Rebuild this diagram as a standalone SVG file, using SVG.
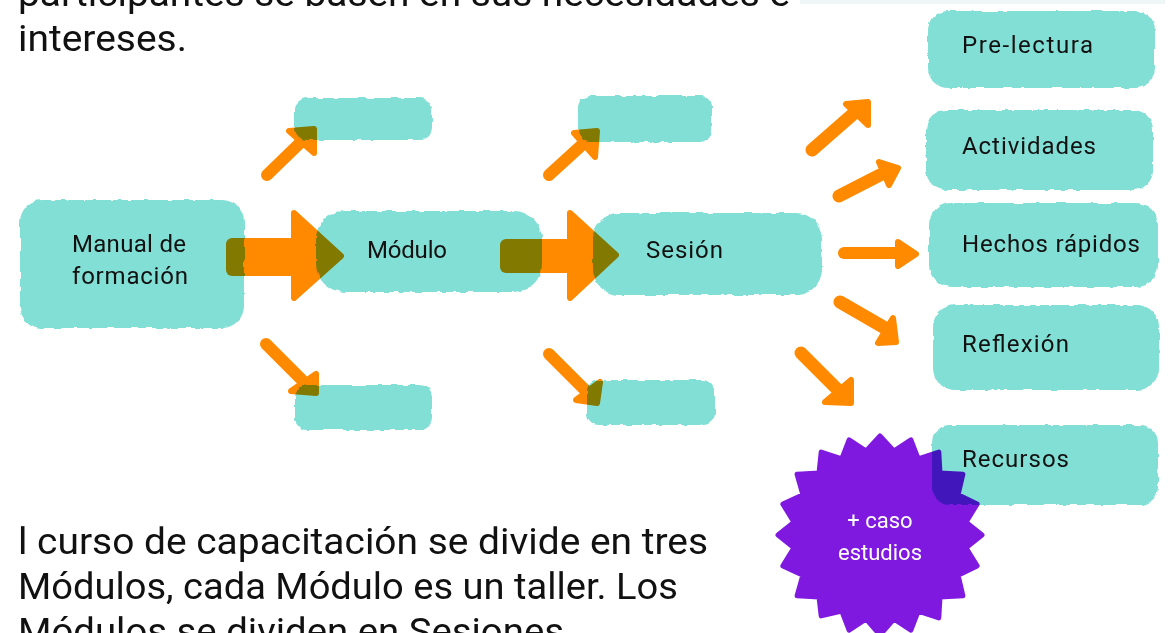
<svg xmlns="http://www.w3.org/2000/svg" width="1169" height="633" viewBox="0 0 1169 633">
<style>
.bg{fill:#ffffff}
.box{fill:#82dfd5;filter:url(#rough)}
.lbl{font-family:Roboto,"Liberation Sans",sans-serif;font-size:24px;fill:#111111}
.body{font-family:Roboto,"Liberation Sans",sans-serif;font-size:37px;fill:#111111}
.star{fill:#8019e0;stroke:#8019e0;stroke-width:5;stroke-linejoin:round;mix-blend-mode:multiply}
.startxt{font-family:Roboto,"Liberation Sans",sans-serif;font-size:22px;fill:#ffffff;text-anchor:middle}
.arrow{mix-blend-mode:multiply}
.shaft{fill:none;stroke:#ff8a00;stroke-linecap:round}
.head{fill:#ff8a00;stroke:#ff8a00;stroke-width:6;stroke-linejoin:round}
</style>
<defs>
<filter id="rough" x="-5%" y="-10%" width="110%" height="120%">
<feTurbulence type="fractalNoise" baseFrequency="0.12" numOctaves="2" seed="4" result="n"/>
<feDisplacementMap in="SourceGraphic" in2="n" scale="4" xChannelSelector="R" yChannelSelector="G"/>
</filter>
</defs>
<rect class="bg" x="0" y="0" width="1169" height="633"/>

<g id="text-top">
<rect x="800" y="0" width="365" height="4" fill="#e3f2ef" opacity="0.6"/>
<text class="body" x="18" y="6" textLength="772" lengthAdjust="spacingAndGlyphs">participantes se basen en sus necesidades e</text>
<text class="body" x="18" y="51" textLength="169" lengthAdjust="spacingAndGlyphs">intereses.</text>
</g>

<g id="node-manual">
<rect class="box" x="20" y="200" width="224" height="128" rx="22"/>
<text class="lbl" x="72" y="252" textLength="114">Manual de</text>
<text class="lbl" x="72" y="284" textLength="116">formación</text>
</g>
<g id="node-modulo">
<rect class="box" x="316" y="211" width="226" height="81" rx="28"/>
<text class="lbl" x="367" y="258" textLength="80">Módulo</text>
</g>
<g id="node-sesion">
<rect class="box" x="593" y="213" width="229" height="82" rx="26"/>
<text class="lbl" x="646" y="258" textLength="77">Sesión</text>
</g>
<g id="node-mod-top">
<rect class="box" x="295" y="98" width="137" height="42" rx="12"/>
</g>
<g id="node-ses-top">
<rect class="box" x="578" y="96" width="134" height="46" rx="12"/>
</g>
<g id="node-mod-bottom">
<rect class="box" x="295" y="385" width="137" height="45" rx="12"/>
</g>
<g id="node-ses-bottom">
<rect class="box" x="587" y="380" width="128" height="45" rx="12"/>
</g>
<g id="node-prelectura">
<rect class="box" x="928" y="11" width="227" height="77" rx="20"/>
<text class="lbl" x="962" y="53" textLength="131">Pre-lectura</text>
</g>
<g id="node-actividades">
<rect class="box" x="926" y="110" width="227" height="80" rx="20"/>
<text class="lbl" x="962" y="154" textLength="134">Actividades</text>
</g>
<g id="node-hechos">
<rect class="box" x="929" y="203" width="229" height="84" rx="22"/>
<text class="lbl" x="962" y="252" textLength="178">Hechos rápidos</text>
</g>
<g id="node-reflexion">
<rect class="box" x="933" y="305" width="226" height="85" rx="22"/>
<text class="lbl" x="962" y="352" textLength="107">Reflexión</text>
</g>
<g id="node-recursos">
<rect class="box" x="932" y="425" width="226" height="80" rx="18"/>
<text class="lbl" x="962" y="467" textLength="107">Recursos</text>
</g>
<g id="node-caso">
<polygon class="star" points="982,535 966,547.8 977.1,565.9 958.1,575.2 962.9,595.8 940,597 938.8,617.9 918.2,611.1 910.9,630.1 893.8,619 880,635 866.2,619 849.1,630.1 841.8,611.1 821.2,615.9 819,597 797.1,595.8 802.9,575.2 782.9,565.9 794,547.8 778,535 794,522.2 782.9,504.1 802.9,494.8 797.1,474.2 819,473 821.2,452.1 841.8,458.9 849.1,439.9 866.2,451 880,436 893.8,451 910.9,439.9 918.2,458.9 938.8,452.1 940,473 962.9,474.2 958.1,494.8 977.1,504.1 966,522.2"/>
<text class="startxt" x="880" y="528">+ caso</text>
<text class="startxt" x="880" y="560">estudios</text>
</g>

<g id="connectors">
<g class="arrow">
<rect x="226" y="238" width="70" height="38" rx="6" fill="#ff8a00"/>
<polygon class="head" points="294,213 341,256 294,298"/>
</g>
<g class="arrow">
<rect x="500" y="239" width="72" height="34" rx="6" fill="#ff8a00"/>
<polygon class="head" points="570,213 616,255 570,298"/>
</g>
<g class="arrow">
<line class="shaft" x1="267" y1="175" x2="300" y2="143" stroke-width="12"/>
<polygon class="head" points="289,131 314,129 314,153"/>
</g>
<g class="arrow">
<line class="shaft" x1="549" y1="175" x2="583" y2="144" stroke-width="12"/>
<polygon class="head" points="574,133 597,131 595,157"/>
</g>
<g class="arrow">
<line class="shaft" x1="266" y1="344" x2="302" y2="380" stroke-width="12"/>
<polygon class="head" points="291,391 316,374 316,393"/>
</g>
<g class="arrow">
<line class="shaft" x1="549" y1="354" x2="585" y2="390" stroke-width="12"/>
<polygon class="head" points="576,400 600,382 597,403"/>
</g>
<g class="arrow">
<line class="shaft" x1="812" y1="150" x2="852" y2="115" stroke-width="13"/>
<polygon class="head" points="846,104 868,102 868,125"/>
</g>
<g class="arrow">
<line class="shaft" x1="839" y1="196" x2="880" y2="175" stroke-width="13"/>
<polygon class="head" points="879,162 898,168 889,185"/>
</g>
<g class="arrow">
<line class="shaft" x1="844" y1="253" x2="900" y2="253" stroke-width="12"/>
<polygon class="head" points="898,242 916,254 898,266"/>
</g>
<g class="arrow">
<line class="shaft" x1="840" y1="302" x2="885" y2="328" stroke-width="13"/>
<polygon class="head" points="893,318 878,343 896,342"/>
</g>
<g class="arrow">
<line class="shaft" x1="801" y1="353" x2="838" y2="390" stroke-width="13"/>
<polygon class="head" points="825,402 851,380 851,403"/>
</g>
</g>

<g id="text-bottom">
<text class="body" x="18" y="554" textLength="690" lengthAdjust="spacingAndGlyphs">l curso de capacitación se divide en tres</text>
<text class="body" x="18" y="599" textLength="660" lengthAdjust="spacingAndGlyphs">Módulos, cada Módulo es un taller. Los</text>
<text class="body" x="18" y="644" textLength="546" lengthAdjust="spacingAndGlyphs">Módulos se dividen en Sesiones</text>
</g>
</svg>
